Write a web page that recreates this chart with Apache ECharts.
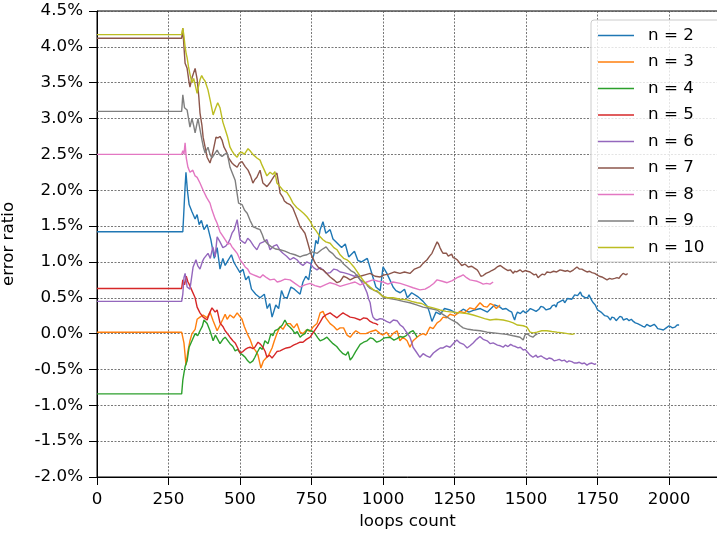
<!DOCTYPE html>
<html><head><meta charset="utf-8">
<script src="https://cdn.jsdelivr.net/npm/echarts@6/dist/echarts.min.js"></script>
<style>html,body{margin:0;padding:0;background:#fff}#c{width:717px;height:535px}</style>
</head><body><div id="c"></div>
<script>
const names = ['n = 2','n = 3','n = 4','n = 5','n = 6','n = 7','n = 8','n = 9','n = 10'];
const colors = ['#1f77b4','#ff7f0e','#2ca02c','#d62728','#9467bd','#8c564b','#e377c2','#7f7f7f','#bcbd22'];
const xTicks = [0,250,500,750,1000,1250,1500,1750,2000];
const yTicks = [-2.0,-1.5,-1.0,-0.5,0.0,0.5,1.0,1.5,2.0,2.5,3.0,3.5,4.0,4.5];

const n2 = [[0,1.42],[300,1.42],[303,1.65],[308,2.05],[311,2.25],[316,2.0],[322,1.8],[332,1.7],[343,1.6],[350,1.66],[357,1.52],[365,1.58],[374,1.45],[385,1.52],[398,1.31],[410,1.05],[420,1.2],[430,0.9],[440,1.05],[448,0.95],[455,1.0],[470,1.1],[478,1.0],[485,0.95],[500,0.85],[510,0.9],[520,0.75],[530,0.8],[540,0.62],[555,0.55],[570,0.5],[585,0.55],[595,0.35],[604,0.42],[612,0.23],[625,0.4],[635,0.35],[645,0.6],[655,0.5],[665,0.5],[678,0.65],[690,0.62],[710,0.55],[720,0.72],[730,0.8],[740,0.75],[750,1.0],[758,1.1],[765,1.3],[772,1.25],[780,1.45],[790,1.56],[800,1.4],[815,1.45],[825,1.32],[835,1.28],[855,1.2],[868,1.25],[880,1.07],[900,1.15],[912,1.02],[925,1.0],[945,1.05],[960,0.85],[975,0.65],[990,0.6],[1000,0.93],[1012,0.85],[1024,0.75],[1035,0.65],[1045,0.6],[1060,0.57],[1075,0.62],[1085,0.5],[1100,0.57],[1120,0.52],[1140,0.45],[1155,0.38],[1162,0.3],[1171,0.17],[1185,0.3],[1200,0.27],[1215,0.35],[1234,0.33],[1260,0.28],[1280,0.34],[1300,0.3],[1320,0.33],[1340,0.35],[1365,0.3],[1380,0.36],[1390,0.4],[1409,0.37],[1418,0.34],[1430,0.35],[1440,0.32],[1450,0.3],[1455,0.24],[1460,0.19],[1465,0.26],[1470,0.3],[1480,0.28],[1490,0.32],[1497,0.29],[1505,0.31],[1515,0.35],[1525,0.33],[1535,0.31],[1545,0.34],[1552,0.38],[1560,0.37],[1570,0.33],[1585,0.35],[1592,0.39],[1600,0.4],[1605,0.37],[1610,0.43],[1620,0.45],[1630,0.47],[1635,0.43],[1640,0.44],[1645,0.49],[1650,0.5],[1660,0.48],[1670,0.54],[1680,0.53],[1690,0.58],[1695,0.53],[1700,0.55],[1708,0.5],[1715,0.5],[1720,0.54],[1725,0.52],[1730,0.46],[1735,0.43],[1742,0.4],[1750,0.33],[1756,0.35],[1762,0.3],[1768,0.28],[1775,0.25],[1785,0.24],[1795,0.19],[1800,0.23],[1808,0.22],[1815,0.18],[1820,0.2],[1828,0.24],[1835,0.23],[1840,0.19],[1845,0.2],[1852,0.21],[1860,0.18],[1868,0.2],[1875,0.17],[1882,0.15],[1890,0.14],[1895,0.16],[1900,0.12],[1908,0.1],[1915,0.09],[1922,0.13],[1928,0.13],[1934,0.1],[1940,0.12],[1948,0.13],[1955,0.1],[1960,0.07],[1965,0.08],[1972,0.06],[1980,0.05],[1985,0.04],[1990,0.08],[1995,0.08],[2000,0.11],[2005,0.1],[2012,0.08],[2020,0.09],[2028,0.12],[2035,0.12]];

const n3 = [[0,0.02],[296,0.02],[300,0.04],[304,-0.13],[308,-0.3],[311,-0.44],[318,-0.24],[325,-0.1],[332,0.0],[343,0.06],[350,0.2],[360,0.23],[371,0.26],[385,0.22],[395,0.3],[406,0.18],[420,0.04],[430,0.12],[440,0.2],[448,0.27],[455,0.2],[465,0.26],[478,0.22],[490,0.29],[507,0.2],[515,0.1],[525,0.0],[535,-0.08],[545,-0.19],[555,-0.24],[563,-0.3],[573,-0.48],[582,-0.38],[591,-0.34],[600,-0.3],[612,-0.2],[620,-0.1],[629,0.0],[640,0.1],[650,0.06],[662,0.14],[675,0.14],[688,0.08],[699,0.14],[710,0.02],[720,0.0],[732,0.05],[745,0.03],[757,0.1],[769,0.14],[780,0.29],[790,0.31],[800,0.22],[815,0.14],[828,0.1],[839,0.05],[850,0.08],[862,0.08],[874,-0.02],[885,-0.05],[895,0.0],[905,0.04],[920,0.0],[940,0.0],[958,0.03],[975,0.05],[990,0.0],[1000,-0.02],[1012,0.02],[1024,-0.05],[1035,0.0],[1049,0.04],[1059,-0.1],[1070,-0.05],[1084,-0.1],[1094,-0.19],[1105,-0.1],[1119,-0.05],[1129,-0.02],[1140,0.0],[1150,-0.02],[1164,0.09],[1175,0.07],[1189,0.15],[1200,0.18],[1210,0.23],[1222,0.22],[1234,0.27],[1250,0.25],[1269,0.31],[1285,0.29],[1304,0.36],[1320,0.34],[1339,0.43],[1352,0.38],[1364,0.37],[1375,0.42],[1385,0.4],[1396,0.35],[1409,0.4]];

const n4 = [[0,-0.84],[296,-0.84],[300,-0.65],[304,-0.55],[308,-0.46],[315,-0.38],[322,-0.19],[332,-0.1],[343,0.0],[352,-0.03],[360,0.04],[368,0.1],[374,0.19],[385,0.14],[395,0.04],[406,-0.1],[414,-0.02],[420,0.0],[430,-0.14],[440,-0.08],[448,-0.05],[465,-0.14],[475,-0.18],[483,-0.24],[492,-0.22],[500,-0.27],[510,-0.3],[518,-0.33],[527,-0.38],[535,-0.41],[545,-0.38],[552,-0.33],[559,-0.27],[570,-0.19],[578,-0.22],[587,-0.1],[598,-0.14],[608,0.0],[615,-0.03],[622,0.04],[632,0.06],[640,0.09],[648,0.12],[657,0.19],[666,0.12],[675,0.09],[684,0.05],[692,0.0],[700,0.03],[710,-0.05],[718,-0.02],[727,0.0],[735,0.06],[745,0.04],[755,0.03],[762,0.0],[772,-0.06],[780,-0.1],[792,-0.08],[804,-0.05],[815,-0.1],[825,-0.14],[838,-0.18],[850,-0.24],[860,-0.28],[870,-0.3],[878,-0.25],[885,-0.37],[893,-0.33],[904,-0.25],[920,-0.15],[932,-0.12],[944,-0.1],[955,-0.06],[965,-0.07],[978,-0.12],[990,-0.1],[1005,-0.06],[1024,-0.05],[1038,-0.09],[1049,-0.07],[1059,-0.04],[1070,-0.05],[1080,-0.03],[1094,0.02],[1105,0.04],[1112,0.0],[1119,-0.05]];

const n5 = [[0,0.63],[296,0.63],[300,0.75],[306,0.68],[312,0.8],[318,0.72],[322,0.69],[332,0.6],[343,0.5],[350,0.37],[360,0.29],[371,0.23],[385,0.19],[395,0.3],[402,0.36],[413,0.3],[420,0.33],[430,0.15],[440,0.1],[448,0.04],[456,0.0],[465,-0.05],[475,-0.1],[483,-0.13],[492,-0.2],[500,-0.27],[510,-0.25],[518,-0.22],[527,-0.2],[535,-0.19],[545,-0.21],[552,-0.19],[563,-0.12],[572,-0.15],[580,-0.19],[588,-0.25],[594,-0.33],[603,-0.3],[612,-0.34],[620,-0.3],[629,-0.25],[640,-0.24],[650,-0.22],[662,-0.2],[675,-0.19],[687,-0.16],[699,-0.14],[710,-0.12],[720,-0.12],[732,-0.08],[745,-0.05],[757,0.02],[769,0.09],[780,0.16],[790,0.23],[800,0.26],[815,0.29],[828,0.25],[839,0.22],[850,0.26],[860,0.29],[872,0.26],[885,0.23],[900,0.22],[920,0.19],[932,0.22],[944,0.21],[955,0.17],[965,0.15],[975,0.14],[983,0.12]];

const n6 = [[0,0.45],[296,0.45],[300,0.55],[304,0.78],[308,0.84],[315,0.65],[325,0.62],[336,0.93],[346,1.03],[352,0.95],[360,0.9],[368,1.0],[374,1.05],[388,1.12],[396,1.05],[405,1.21],[413,1.07],[420,1.35],[430,1.28],[440,1.2],[450,1.22],[458,1.26],[465,1.32],[472,1.4],[480,1.45],[490,1.59],[500,1.31],[510,1.28],[518,1.26],[527,1.33],[535,1.3],[548,1.22],[559,1.17],[570,1.26],[582,1.28],[594,1.31],[605,1.17],[617,1.22],[629,1.24],[640,1.16],[650,1.12],[663,1.08],[675,1.03],[687,1.06],[699,1.03],[710,0.98],[720,0.95],[733,1.0],[745,0.98],[757,0.92],[769,0.89],[780,0.92],[790,0.89],[803,0.84],[815,0.85],[828,0.9],[839,0.89],[850,0.86],[862,0.85],[880,0.83],[900,0.8],[910,0.82],[920,0.75],[932,0.68],[944,0.57],[950,0.48],[955,0.43],[960,0.3],[965,0.23],[972,0.2],[979,0.19],[990,0.21],[1000,0.2],[1012,0.17],[1024,0.15],[1036,0.19],[1049,0.18],[1060,0.12],[1070,0.09],[1082,0.02],[1094,-0.05],[1100,-0.12],[1105,-0.19],[1117,-0.26],[1129,-0.33],[1140,-0.28],[1152,-0.31],[1164,-0.33],[1176,-0.27],[1189,-0.23],[1200,-0.2],[1210,-0.2],[1222,-0.17],[1234,-0.19],[1250,-0.12],[1258,-0.09],[1269,-0.13],[1282,-0.15],[1294,-0.2],[1304,-0.17],[1315,-0.13],[1327,-0.08],[1339,-0.04],[1350,-0.08],[1364,-0.1],[1375,-0.14],[1385,-0.13],[1400,-0.16],[1410,-0.17],[1420,-0.19],[1428,-0.16],[1437,-0.18],[1446,-0.15],[1455,-0.17],[1463,-0.18],[1472,-0.2],[1480,-0.19],[1490,-0.23],[1497,-0.22],[1503,-0.25],[1508,-0.27],[1514,-0.3],[1519,-0.29],[1524,-0.33],[1530,-0.31],[1535,-0.3],[1540,-0.33],[1545,-0.32],[1552,-0.31],[1560,-0.33],[1566,-0.35],[1573,-0.36],[1580,-0.34],[1590,-0.35],[1598,-0.38],[1608,-0.37],[1616,-0.36],[1625,-0.38],[1634,-0.37],[1643,-0.4],[1650,-0.38],[1660,-0.39],[1668,-0.41],[1678,-0.41],[1686,-0.4],[1695,-0.42],[1704,-0.41],[1713,-0.44],[1720,-0.42],[1725,-0.43],[1730,-0.41],[1735,-0.4],[1740,-0.43],[1745,-0.42]];

const n7 = [[0,4.12],[296,4.12],[300,4.26],[304,4.0],[308,3.77],[315,3.7],[322,3.5],[325,3.44],[333,3.58],[343,3.7],[350,3.55],[356,3.3],[360,3.08],[367,2.9],[371,2.74],[378,2.6],[385,2.46],[395,2.38],[400,2.45],[406,2.55],[416,2.74],[423,2.73],[430,2.75],[437,2.7],[444,2.6],[451,2.55],[460,2.45],[472,2.38],[480,2.35],[490,2.32],[498,2.38],[507,2.4],[518,2.33],[528,2.28],[537,2.2],[545,2.1],[552,2.15],[559,2.18],[570,2.28],[580,2.1],[594,2.05],[604,2.1],[612,2.15],[620,2.2],[629,2.24],[635,2.1],[640,1.96],[650,1.9],[655,1.85],[664,1.82],[675,1.8],[685,1.75],[692,1.68],[700,1.6],[710,1.49],[718,1.45],[727,1.4],[733,1.32],[738,1.25],[747,1.12],[755,1.05],[763,0.98],[773,0.93],[782,0.9],[790,0.89],[803,0.84],[815,0.79],[828,0.75],[839,0.71],[850,0.73],[862,0.8],[873,0.78],[885,0.75],[900,0.78],[920,0.8],[937,0.82],[955,0.84],[972,0.8],[990,0.79],[1005,0.82],[1020,0.83],[1040,0.86],[1059,0.84],[1075,0.86],[1094,0.84],[1110,0.9],[1129,0.93],[1140,0.98],[1154,1.03],[1163,1.08],[1171,1.12],[1180,1.2],[1189,1.28],[1194,1.25],[1199,1.2],[1205,1.15],[1210,1.12],[1216,1.14],[1222,1.12],[1228,1.08],[1234,1.1],[1240,1.11],[1245,1.06],[1252,1.05],[1259,1.03],[1265,1.0],[1270,0.98],[1275,0.95],[1280,0.93],[1286,0.97],[1292,0.96],[1298,0.93],[1304,0.95],[1310,0.94],[1317,0.92],[1323,0.9],[1329,0.89],[1334,0.86],[1338,0.84],[1342,0.8],[1346,0.78],[1350,0.81],[1355,0.8],[1360,0.84],[1364,0.82],[1372,0.86],[1380,0.88],[1390,0.9],[1399,0.93],[1405,0.91],[1410,0.95],[1415,0.94],[1420,0.92],[1428,0.9],[1437,0.88],[1445,0.89],[1455,0.84],[1460,0.87],[1467,0.86],[1473,0.88],[1479,0.89],[1488,0.86],[1497,0.88],[1505,0.87],[1514,0.86],[1520,0.84],[1528,0.82],[1535,0.83],[1542,0.78],[1550,0.81],[1557,0.83],[1565,0.82],[1573,0.86],[1585,0.85],[1596,0.87],[1607,0.86],[1619,0.89],[1628,0.88],[1637,0.87],[1645,0.88],[1654,0.86],[1660,0.87],[1666,0.89],[1672,0.91],[1678,0.93],[1686,0.9],[1695,0.9],[1704,0.88],[1713,0.86],[1722,0.87],[1730,0.85],[1740,0.84],[1748,0.82],[1756,0.8],[1765,0.79],[1774,0.77],[1783,0.75],[1792,0.77],[1800,0.76],[1810,0.77],[1818,0.78],[1825,0.77],[1830,0.8],[1835,0.81],[1839,0.84],[1845,0.82],[1850,0.82],[1855,0.84]];

const n8 = [[0,2.5],[296,2.5],[300,2.55],[304,2.5],[308,2.66],[312,2.45],[318,2.32],[325,2.25],[335,2.28],[343,2.2],[350,2.18],[360,2.1],[371,2.0],[383,1.9],[395,1.82],[400,1.75],[406,1.68],[413,1.6],[420,1.54],[430,1.42],[440,1.36],[448,1.31],[458,1.25],[465,1.26],[472,1.21],[480,1.17],[490,1.12],[500,1.03],[510,0.98],[518,0.93],[527,0.9],[535,0.84],[547,0.82],[559,0.8],[570,0.78],[580,0.82],[593,0.78],[605,0.75],[620,0.76],[630,0.72],[640,0.73],[657,0.76],[675,0.75],[692,0.7],[710,0.65],[727,0.68],[745,0.7],[762,0.67],[780,0.65],[797,0.68],[815,0.71],[832,0.69],[850,0.66],[867,0.68],[885,0.7],[902,0.72],[920,0.68],[943,0.72],[965,0.75],[983,0.73],[1000,0.72],[1017,0.69],[1035,0.72],[1060,0.7],[1084,0.67],[1105,0.64],[1129,0.61],[1147,0.62],[1164,0.66],[1177,0.7],[1189,0.75],[1207,0.73],[1224,0.71],[1242,0.74],[1259,0.78],[1270,0.8],[1280,0.82],[1292,0.78],[1304,0.75],[1317,0.74],[1329,0.73],[1340,0.71],[1350,0.69],[1362,0.7],[1374,0.69],[1385,0.72]];

const n9 = [[0,3.1],[296,3.1],[300,3.33],[306,3.15],[315,3.12],[320,3.0],[325,2.88],[332,3.0],[338,2.9],[343,2.8],[353,3.0],[360,2.85],[367,2.7],[372,2.6],[378,2.52],[388,2.6],[395,2.5],[402,2.45],[410,2.5],[420,2.56],[428,2.5],[437,2.47],[446,2.5],[455,2.52],[465,2.32],[475,2.22],[483,2.14],[490,1.95],[495,1.82],[507,1.8],[516,1.72],[525,1.68],[535,1.58],[546,1.49],[557,1.47],[570,1.45],[578,1.38],[584,1.31],[597,1.25],[610,1.21],[625,1.18],[640,1.17],[657,1.15],[675,1.12],[692,1.1],[710,1.07],[722,1.09],[734,1.1],[752,1.14],[770,1.12],[785,1.17],[801,1.21],[812,1.15],[823,1.12],[836,1.06],[850,1.03],[862,0.97],[874,0.93],[887,0.88],[900,0.85],[910,0.8],[920,0.75],[930,0.73],[940,0.7],[947,0.66],[955,0.63],[972,0.6],[990,0.56],[1000,0.51],[1024,0.49],[1049,0.47],[1070,0.45],[1094,0.43],[1117,0.4],[1140,0.37],[1164,0.35],[1189,0.33],[1205,0.28],[1224,0.23],[1240,0.19],[1259,0.15],[1270,0.11],[1280,0.08],[1298,0.06],[1315,0.05],[1340,0.04],[1364,0.02],[1387,0.01],[1409,0.0],[1432,-0.01],[1455,-0.03],[1467,-0.04],[1479,-0.05],[1490,-0.09],[1496,-0.02],[1503,0.0],[1513,-0.03],[1524,-0.05],[1532,-0.02],[1540,0.0]];

const n10 = [[0,4.17],[296,4.17],[300,4.26],[304,4.15],[308,4.0],[312,3.9],[315,3.85],[320,3.72],[326,3.6],[332,3.5],[338,3.56],[343,3.54],[350,3.35],[355,3.45],[360,3.54],[366,3.6],[371,3.56],[378,3.52],[388,3.4],[396,3.25],[406,3.05],[415,3.15],[422,3.22],[430,3.15],[440,2.95],[448,2.85],[456,2.75],[465,2.6],[472,2.55],[480,2.5],[490,2.46],[498,2.52],[507,2.53],[515,2.5],[528,2.58],[535,2.55],[545,2.5],[559,2.45],[570,2.42],[577,2.35],[585,2.28],[594,2.2],[605,2.25],[615,2.22],[622,2.26],[629,2.1],[640,2.05],[650,2.0],[664,1.97],[675,1.9],[685,1.82],[698,1.76],[710,1.72],[722,1.68],[734,1.63],[745,1.57],[755,1.49],[765,1.44],[780,1.35],[790,1.31],[800,1.28],[815,1.26],[828,1.2],[839,1.17],[850,1.1],[862,1.05],[874,1.03],[885,0.99],[898,0.93],[910,0.86],[920,0.8],[935,0.72],[955,0.65],[970,0.6],[979,0.6],[990,0.55],[1000,0.52],[1015,0.5],[1035,0.5],[1060,0.48],[1084,0.47],[1100,0.45],[1119,0.43],[1135,0.42],[1154,0.38],[1175,0.36],[1199,0.33],[1220,0.31],[1245,0.3],[1270,0.29],[1294,0.28],[1315,0.26],[1339,0.23],[1355,0.21],[1374,0.19],[1395,0.2],[1420,0.19],[1440,0.17],[1455,0.15],[1470,0.12],[1490,0.11],[1503,0.09],[1514,0.02],[1525,0.01],[1538,0.02],[1555,0.04],[1573,0.04],[1590,0.03],[1608,0.02],[1629,0.01],[1645,0.0],[1661,-0.01],[1670,0.0]];

const seriesData = [n2,n3,n4,n5,n6,n7,n8,n9,n10];
const FONT = 'DejaVu Sans';
const FS = 16.7;

const chart = echarts.init(document.getElementById('c'), null, {renderer:'canvas'});
chart.setOption({
  animation: false,
  backgroundColor: '#fff',
  grid: {left: 97, right: -1, top: 11, bottom: 58, containLabel: false, outerBoundsMode: 'none',
    show: true, borderColor: '#000', borderWidth: 1, backgroundColor: 'transparent'},
  xAxis: {
    type: 'value', min: 0, max: 2171, interval: 250,
    name: 'loops count', nameLocation: 'middle', nameGap: 36,
    nameTextStyle: {fontFamily: FONT, fontSize: FS, color: '#000'},
    axisLine: {show: true, onZero: false, lineStyle: {color: '#000', width: 1}},
    axisTick: {show: true, length: 8, inside: false, lineStyle: {color: '#000'}},
    axisLabel: {fontFamily: FONT, fontSize: FS, color: '#000', margin: 14,
      formatter: v => xTicks.includes(v) ? String(v) : ''},
    splitLine: {show: true, lineStyle: {color: '#555', width: 0.8, type: [2, 1.5]}}
  },
  yAxis: {
    type: 'value', min: -2, max: 4.5, interval: 0.5,
    name: 'error ratio', nameLocation: 'middle', nameGap: 80, nameRotate: 90,
    nameTextStyle: {fontFamily: FONT, fontSize: FS, color: '#000'},
    axisLine: {show: true, onZero: false, lineStyle: {color: '#000', width: 1}},
    axisTick: {show: true, length: 8, lineStyle: {color: '#000'}},
    axisLabel: {fontFamily: FONT, fontSize: FS, color: '#000', margin: 14,
      formatter: v => v.toFixed(1) + '%'},
    splitLine: {show: true, lineStyle: {color: '#555', width: 0.8, type: [2, 1.5]}}
  },
  legend: {
    orient: 'vertical', left: 591, top: 20,
    padding: [7, 20, 6, 7],
    icon: 'rect',
    itemWidth: 36, itemHeight: 1.6, itemGap: 9.5,
    backgroundColor: 'rgba(255,255,255,0.8)', borderColor: '#cccccc', borderWidth: 1, borderRadius: 3,
    textStyle: {fontFamily: FONT, fontSize: FS, lineHeight: 16, color: '#000', padding: [0, 0, 0, 9]},
    data: names
  },
  series: seriesData.map((d, i) => ({
    name: names[i], type: 'line', data: d, showSymbol: false, symbol: 'none',
    lineStyle: {color: colors[i], width: 1.4}, itemStyle: {color: colors[i]},
    emphasis: {disabled: true}
  }))
});
</script></body></html>
